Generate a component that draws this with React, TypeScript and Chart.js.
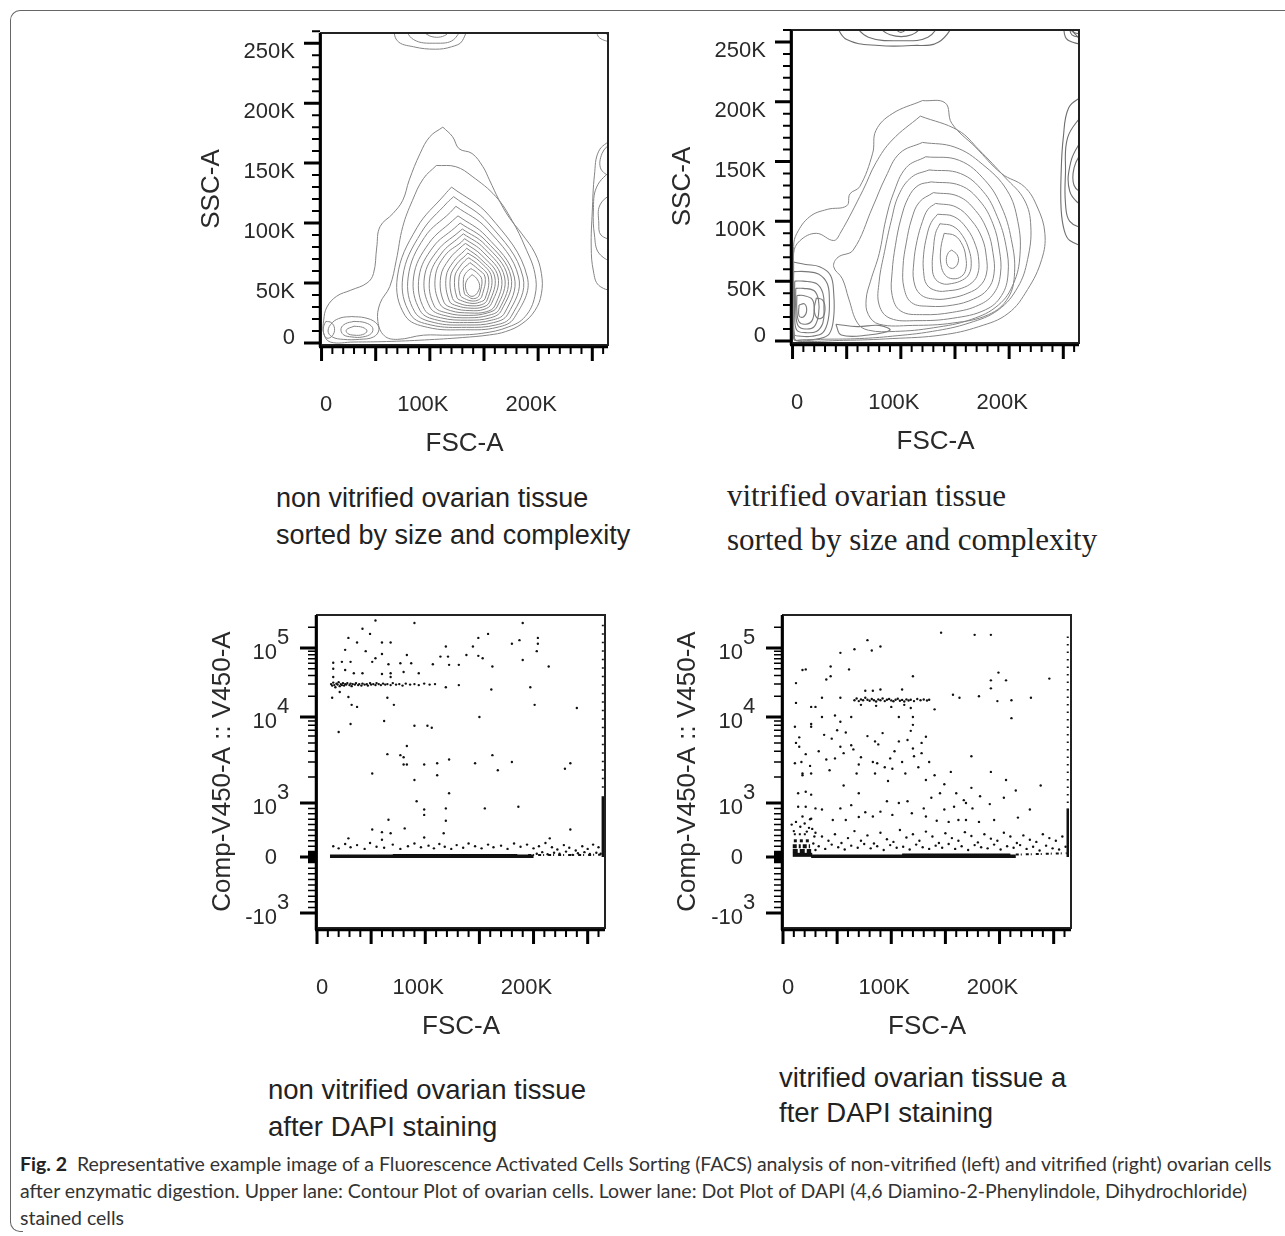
import React, { useEffect, useRef } from "react";
import { Chart, registerables } from "chart.js";

Chart.register(...registerables);

type Pt = [number, number];

// ---------------- axis ticks ----------------
const FSC_MAJOR = [0, 50, 100, 150, 200, 250];
const FSC_MINOR = [10, 20, 30, 40, 60, 70, 80, 90, 110, 120, 130, 140, 160, 170, 180, 190, 210, 220, 230, 240, 260];
const FSC_LABELS = [0, 100, 200];
const SSC_MAJOR = [0, 50, 100, 150, 200, 250];
const SSC_MINOR = [10, 20, 30, 40, 60, 70, 80, 90, 110, 120, 130, 140, 160, 170, 180, 190, 210, 220, 230, 240, 260];
const SSC_LABELS = [0, 50, 100, 150, 200, 250];
const V450_MAJOR = [-1000, 0, 1000, 10000, 100000];
const V450_MINOR = [
  -900, -800, -700, -600, -500, -400, -300, -200, -100,
  -90, -80, -70, -60, -50, -40, -30, -20, -10,
  10, 20, 30, 40, 50, 60, 70, 80, 90,
  100, 200, 300, 400, 500, 600, 700, 800, 900,
  2000, 3000, 4000, 5000, 6000, 7000, 8000, 9000,
  20000, 30000, 40000, 50000, 60000, 70000, 80000, 90000, 200000,
];

// ---------------- contour plot: non vitrified (FSC-A K, SSC-A K) ----------------
const TL_MAIN_RINGS: Pt[][] = [
  [[112,180],[121,172],[127,162],[139,158],[149,147],[155,136],[164,119],[173,105],[185,91],[197,75],[203,58],[203,41],[197,27],[185,16],[170,9.5],[155,6.7],[130,4.5],[95,2.5],[60,1.2],[30,0.8],[8,0.8],[2,8],[2,19],[5,30],[14,39],[27,44],[42,50],[48,58],[51,80],[54,97],[66,108],[75,119],[81,136],[91,158],[100,172]],
  [[106,148],[124,147],[139,139],[161,122],[176,102],[188,80],[197,58],[197,39],[188,22],[173,13.5],[148,8],[118,6.5],[94,6.5],[70,3],[58,6],[52,18],[54,33],[63,47],[69,69],[75,97],[84,119],[94,137]],
  [[120,130],[155,106],[190,55],[178,21],[162,13],[133,11],[98,13],[77,23],[70,55],[88,96],[114,124]],
  [[122,122],[154,100],[186,55],[175,22],[161,15],[134,13],[101,15],[82,24],[75,55],[92,92],[116,117]],
  [[124,114],[153,95],[182,55],[172,24],[159,17],[134,15],[104,17],[86,26],[80,55],[95,88],[119,109]],
  [[126,106],[152,89],[178,55],[169,25],[157,19],[135,17],[107,19],[91,27],[85,55],[99,83],[121,102]],
  [[128,100],[152,85],[175,55],[166,27],[156,21],[135,19],[110,21],[95,28],[90,55],[103,80],[123,96]],
  [[130,95],[151,82],[172,55],[164,28],[154,23],[136,21],[113,23],[100,30],[95,55],[107,77],[126,92]],
  [[131,91],[150,79],[169,55],[162,30],[153,25],[136,23],[116,25],[104,31],[100,55],[111,75],[127,88]],
  [[132,87],[149,76],[166,55],[160,31],[152,26],[137,25],[119,27],[109,33],[105,55],[114,73],[129,84]],
  [[133,83],[148,73],[163,55],[157,33],[150,28],[137,27],[122,29],[113,34],[110,55],[118,70],[130,81]],
  [[134,79],[147,70],[160,55],[155,34],[149,30],[138,29],[125,31],[118,35],[115,55],[122,68],[132,77]],
  [[135,75],[146,68],[157,55],[153,36],[148,32],[138,31],[127,33],[121,37],[119,55],[125,66],[133,73]],
  [[136,71],[145,65],[154,55],[151,37],[146,34],[139,33],[130,35],[125,38],[123,55],[128,64],[134,70]],
  [[137,67],[144,62],[151,55],[148,39],[145,36],[139,35],[132,37],[128,40],[127,55],[131,62],[136,66]],
  [[138,62],[143,59],[148,53],[146,41],[144,38],[139,37],[135,39],[132,41],[131,53],[133,58],[137,61.5]],
  [[139,57],[143,54],[146,48],[144,42],[140,39],[136,40],[133,46],[134,52]],
];
const TL_LEFT_BLOB: Pt[][] = [
  [[28,22],[40,21],[50,17],[53,11],[48,5],[35,3],[20,3],[10,5],[6,10],[10,17],[18,21]],
  [[30,18],[40,17],[47,13],[46,8],[38,5],[28,5],[20,7],[18,12],[22,16]],
  [[30,14],[38,13],[42,10],[38,7],[30,6.5],[24,8],[23,11]],
  [[4,18],[9,17],[12,12],[10,6],[5,4],[2,8],[2,14]],
];
const TL_EDGE_BLOBS: Pt[][] = [
  [[66,266],[70,252],[85,247],[105,245],[120,247],[130,252],[132,266]],
  [[75,266],[85,253],[105,250],[122,253],[127,266]],
  [[88,266],[100,256],[115,257],[118,266]],
  [[254,266],[256,255],[268,252]],
  [[268,170],[256,160],[252,140],[250,110],[249,80],[251,60],[256,48],[268,46]],
  [[268,145],[254,130],[251,110],[252,90],[256,75],[268,70]],
  [[268,125],[257,115],[256,100],[258,90],[268,88]],
  [[268,168],[259,158],[258,145],[268,140]],
];

// ---------------- contour plot: vitrified ----------------
const TR_MAIN_RINGS: Pt[][] = [
  [[120,201],[141,199],[147,182],[169,162],[193,140],[214,129],[226,112],[233,90],[230,68],[217,43],[199,23],[172,12],[138,5],[92,2],[47,0.5],[2,0.5],[1,79],[4,90],[16,104],[32,110],[50,113],[53,123],[62,129],[74,157],[77,176],[92,190]],
  [[118,188],[153,176],[172,160],[196,137],[214,118],[220,96],[217,68],[208,45],[190,26],[163,15],[129,8],[92,4],[62,2],[30,1.5],[2,1.5],[1,73],[7,84],[22,90],[38,84],[44,90],[65,126],[77,149],[92,168]],
  [[120,166],[150,162],[175,148],[198,126],[208,100],[210,72],[204,48],[190,30],[165,18],[130,11],[95,8],[70,9],[60,15],[52,35],[46,52],[38,62],[42,70],[56,76],[74,112],[86,137],[99,157]],
  [[123,154],[154,151],[178,134],[193,112],[202,85],[205,57],[199,36],[181,22],[148,15],[111,13],[80,14],[70,22],[68,35],[72,50],[80,73],[86,101],[93,123],[105,145]],
  [[126,143],[155,140],[176,125],[189,104],[197,80],[199,56],[193,38],[178,26],[148,19],[115,17],[90,19],[80,30],[80,50],[85,75],[91,100],[98,122],[110,137]],
  [[128,133],[155,130],[173,117],[185,98],[191,76],[192,56],[186,40],[172,30],[148,24],[120,22],[100,25],[92,38],[92,58],[95,80],[100,102],[107,120],[116,130]],
  [[130,124],[153,121],[169,109],[180,92],[185,74],[186,56],[180,43],[167,35],[148,30],[126,29],[110,32],[103,44],[102,62],[105,82],[110,102],[117,116]],
  [[132,115],[151,112],[165,101],[175,86],[179,70],[179,56],[173,46],[162,40],[147,36],[131,35],[118,39],[112,50],[112,66],[115,84],[120,100],[125,110]],
  [[134,106],[149,104],[161,94],[169,80],[172,67],[171,56],[166,49],[156,44],[144,42],[133,42],[124,47],[121,58],[121,72],[124,88],[128,99]],
  [[136,98],[148,96],[157,88],[163,76],[165,65],[163,56],[157,51],[147,48],[138,48],[131,53],[129,63],[130,76],[132,90]],
  [[140,90],[150,88],[157,80],[160,70],[160,60],[156,54],[148,52],[141,55],[137,64],[137,78]],
  [[147,76],[152,72],[153,66],[149,61],[144,62],[142,68],[144,74]],
];
const TR_LEFT_BLOB: Pt[][] = [
  [[1,66],[12,64],[25,62],[35,55],[38,40],[38,20],[34,6],[25,2],[10,1],[1,2]],
  [[1,58],[12,58],[24,56],[32,48],[34,35],[33,18],[28,7],[18,4],[8,4],[1,6]],
  [[2,50],[10,50],[22,48],[28,40],[29,28],[28,15],[22,8],[12,7],[4,9],[2,20]],
  [[3,44],[10,44],[20,42],[24,34],[24,22],[20,12],[12,10],[5,13],[3,25]],
  [[4,38],[10,38],[18,35],[20,27],[18,17],[12,14],[6,16],[4,26]],
  [[22,36],[28,34],[30,27],[28,20],[23,19],[20,26]],
  [[6,30],[11,31],[13,25],[10,20],[6,21]],
  [[40,14],[60,12],[80,13],[90,9],[70,5],[45,5]],
];
const TR_EDGE_BLOBS: Pt[][] = [
  [[39,266],[50,252],[80,247],[110,247],[135,250],[145,266]],
  [[55,266],[70,254],[100,251],[125,254],[133,266]],
  [[75,266],[90,256],[110,256],[120,266]],
  [[90,266],[100,258],[108,266]],
  [[250,266],[252,254],[258,250],[268,249]],
  [[255,266],[258,256],[268,255]],
  [[258,266],[260,258],[268,258]],
  [[268,205],[255,195],[250,170],[248,140],[248,110],[251,92],[256,84],[268,82]],
  [[268,190],[254,170],[252,140],[252,115],[256,100],[268,97]],
  [[268,170],[257,150],[256,125],[268,115]],
  [[268,160],[260,145],[260,130],[268,125]],
];

// ---------------- dot plot: non vitrified (FSC-A K, Comp-V450-A) ----------------
const BL_EVENTS: Pt[] = [
  [54,250000],[90,230000],[190,230000],[42,190000],[49,160000],[158,160000],[29,140000],[149,140000],[204,140000],[37,120000],[60,120000],[68,120000],[119,105000],[144,105000],[180,115000],[187,130000],[204,115000],[26,94000],[45,90000],[203,90000],[60,82000],[83,79000],[114,75000],[121,75000],[138,79000],[149,77000],[153,71000],[190,67000],[15,61000],[23,63000],[31,63000],[51,63000],[54,71000],[66,58000],[77,60000],[87,60000],[107,58000],[122,57000],[131,57000],[162,54000],[214,54000],[15,50000],[26,48000],[34,43000],[42,43000],[60,42000],[68,43000],[80,45000],[94,43000],[15,38000],[68,38000],
  [13,30000],[14,28500],[15,31500],[16,29000],[17,27000],[18,30500],[19,29500],[20,32000],[21,28000],[22,30000],[23,29000],[24,31000],[25,28500],[26,30000],[27,29500],[28,31000],[30,29000],[31,30500],[32,28000],[33,30000],[35,29500],[36,31000],[38,29000],[39,30000],[41,28500],[42,30500],[44,29500],[46,30000],[47,28500],[49,31000],[50,29500],[52,30000],[54,29000],[55,31000],[57,30000],[59,29000],[61,30500],[63,29500],[65,30000],[68,29000],[70,31000],[73,29500],[76,30000],[79,28500],[82,30500],[86,29500],[90,30000],[94,29000],[99,30500],[104,29500],[109,30000],
  [119,27000],[131,29000],[197,27000],[14,19000],[21,23000],[29,19500],[65,19000],[32,15000],[37,14000],[71,15000],[161,25000],[201,15000],[240,13500],[150,10000],[20,6700],[31,8300],[62,9000],[90,7900],[102,7900],[106,7500],[83,4600],[65,3700],[77,3600],[80,3400],[80,2800],[83,2800],[99,2800],[111,2900],[122,3200],[146,2900],[162,3600],[167,2400],[180,3000],[229,2500],[234,2900],[51,2200],[90,1850],[111,2100],[122,1300],[92,1050],[99,880],[99,780],[119,900],[155,900],[186,930],[66,690],[119,670],[51,510],[60,460],[68,440],[81,530],[117,440],[234,510],[29,345],[60,320],[99,360],[215,345],
  [15,200],[20,160],[26,240],[31,180],[37,220],[44,150],[49,260],[55,190],[62,170],[70,230],[77,150],[84,200],[90,250],[96,180],[103,210],[108,160],[113,240],[118,190],[124,150],[129,220],[135,170],[140,250],[146,200],[152,160],[158,230],[163,180],[170,210],[176,150],[182,250],[188,190],[194,230],[200,160],[205,200],[211,260],[217,180],[222,140],[228,220],[233,170],[239,120],[245,200],[250,150],[255,230],[260,180],
  [203,60],[208,90],[213,50],[219,80],[224,60],[230,100],[236,40],[241,70],[247,90],[252,55],[258,80],[262,60],
];
const BL_BAND: Pt[] = [[12, 15], [200, 15]];
const BL_BAND_CORE: Pt[] = [[70, 28], [185, 28]];
const BL_BAND_TAIL: Pt[] = [[195, 35], [262, 40]];
const BL_EDGE_DOTS: Pt[] = [[264, 1500], [264, 250000]];
const BL_EDGE_DENSE: Pt[] = [[264, 0], [264, 1200]];

// ---------------- dot plot: vitrified ----------------
const BR_EVENTS: Pt[] = [
  [146,167000],[177,155000],[192,155000],[78,130000],[66,96000],[82,92000],[90,105000],[53,85000],[21,49000],[18,48000],[61,49000],[44,54000],[44,39000],[40,35000],[120,39000],[246,36000],[199,44000],[192,34000],[192,26000],[206,34000],[12,31000],[157,21000],[163,19000],[181,20000],[198,17000],[211,17500],[229,19000],[211,9700],[140,12900],
  [66,17500],[68,18500],[70,17000],[72,18000],[74,17500],[76,19000],[78,17800],[80,17200],[82,18200],[84,17500],[86,16800],[88,18000],[90,17500],[92,18500],[94,17000],[96,17800],[98,18200],[100,17400],[102,16900],[104,17800],[106,18400],[108,17200],[110,17700],[112,16800],[114,18000],[116,17300],[118,17800],[121,17000],[124,18200],[127,17500],[130,17900],[133,17300],[135,17800],
  [76,24000],[83,24000],[90,25000],[110,25000],[72,15000],[86,14500],[100,14000],[112,15000],[118,13500],
  [36,19000],[53,19000],[12,16000],[26,14000],[30,14000],[48,10500],[36,10000],[11,7700],[26,8300],[26,7700],[53,8800],[63,10000],[107,10000],[120,10000],[120,8100],[132,5900],[15,5800],[12,5000],[53,4500],[63,4700],[85,5200],[107,5200],[115,5400],[120,4300],[121,3500],[128,3800],[56,3800],[40,3200],[48,3300],[21,3700],[11,2900],[70,2800],[87,2900],[94,2600],[101,2500],[174,3500],[43,2400],[18,2200],[18,2100],[26,2200],[68,2200],[85,2200],[97,1800],[155,2300],[192,2300],[206,1850],[132,1850],[56,1600],[149,1650],[174,1500],[14,1300],[21,1350],[26,1250],[70,1300],[137,1150],[167,1080],[169,1000],[204,1150],[96,1050],[107,1000],[115,1050],[191,980],[14,930],[21,930],[30,900],[36,880],[53,900],[63,960],[76,830],[90,840],[130,900],[149,880],[158,930],[175,900],[228,880],[18,750],[26,710],[46,685],[58,685],[70,740],[83,750],[101,780],[119,810],[132,750],[142,670],[153,650],[162,685],[169,685],[181,650],[195,685],[217,730],
  [15,4500],[17,3000],[25,2700],[33,4000],[38,6200],[45,5600],[50,7000],[58,6600],[65,4200],[72,3400],[78,6000],[83,3000],[88,4800],[92,6500],[99,3300],[103,4000],[110,3000],[113,2200],[118,6900],[125,2600],[128,5000],[135,3000],[140,2100],[145,1300],[160,1300],[182,1200],[215,1400],[238,1600],
  [30,450],[36,380],[42,300],[48,420],[54,260],[60,350],[66,480],[72,300],[78,400],[84,250],[90,450],[96,330],[102,280],[108,500],[114,360],[120,420],[126,300],[132,470],[138,380],[144,260],[150,440],[156,350],[162,300],[168,460],[174,390],[180,270],[186,420],[192,340],[198,300],[204,450],[210,380],[216,260],[222,400],[228,320],[234,280],[240,420],[246,350],[252,300],[258,380],
  [33,200],[39,150],[45,230],[51,180],[57,140],[63,210],[69,170],[75,240],[81,160],[87,200],[93,130],[99,220],[105,170],[111,190],[117,140],[123,230],[129,180],[135,150],[141,210],[147,170],[153,240],[159,150],[165,200],[171,130],[177,220],[183,180],[189,160],[195,230],[201,140],[207,200],[213,170],[219,220],[225,150],[231,190],[237,120],[243,210],[249,160],[255,140],[261,190],
  [8,600],[12,650],[16,560],[20,620],[24,540],[10,480],[22,470],[27,520],[29,380],[28,250],[30,130],[25,700],
];
const BR_BAND: Pt[] = [[26, 15], [215, 15]];
const BR_BAND_CORE: Pt[] = [[110, 35], [210, 35]];
const BR_BAND_TAIL: Pt[] = [[215, 45], [262, 70]];
const BR_LOW_ROW_A: Pt[] = [[9, 40], [27, 40]];
const BR_LOW_ROW_B: Pt[] = [[9, 110], [26, 110]];
const BR_LOW_ROW_C: Pt[] = [[9, 200], [25, 200]];
const BR_LOW_ROW_D: Pt[] = [[10, 300], [24, 300]];
const BR_LOW_ROW_E: Pt[] = [[10, 420], [22, 420]];
const BR_EDGE_DOTS: Pt[] = [[263, 1000], [263, 160000]];
const BR_EDGE_DENSE: Pt[] = [[263, 0], [263, 900]];

// ---------------- helpers ----------------
const SANS = '"Liberation Sans", Arial, Helvetica, sans-serif';

function biex(v: number): number {
  if (v < 0) return (56 * v) / 1000;
  if (v <= 1000) return (54 * v) / 1000;
  if (v <= 10000) return 54 + 86 * Math.log10(v / 1000);
  return 140 + 69 * Math.log10(v / 10000);
}

const fmtK = (v: number) => (v === 0 ? "0" : `${v}K`);

const facsAxes = {
  id: "facsAxes",
  afterDraw(chart: any, _args: any, o: any) {
    const { ctx, chartArea: a } = chart;
    const xs = chart.scales.x;
    const ys = chart.scales.y;
    const ty = o.biex ? biex : (v: number) => v;
    ctx.save();
    ctx.lineCap = "butt";
    ctx.strokeStyle = "#222";
    ctx.lineWidth = 2;
    ctx.strokeRect(a.left, a.top, a.right - a.left, a.bottom - a.top);
    const xb = a.bottom + 2;
    const yl = a.left - 1;
    ctx.strokeStyle = "#000";
    ctx.lineWidth = 2.5;
    ctx.beginPath();
    ctx.moveTo(a.left - 2, xb);
    ctx.lineTo(a.right, xb);
    ctx.moveTo(yl, a.top);
    ctx.lineTo(yl, a.bottom + 2);
    ctx.stroke();
    const tickX = (vals: number[], len: number, w: number) => {
      ctx.lineWidth = w;
      ctx.beginPath();
      for (const v of vals) {
        const p = xs.getPixelForValue(v);
        if (p < a.left - 2 || p > a.right + 2) continue;
        ctx.moveTo(p, xb);
        ctx.lineTo(p, xb + len);
      }
      ctx.stroke();
    };
    const tickY = (vals: number[], len: number, w: number) => {
      ctx.lineWidth = w;
      ctx.beginPath();
      for (const v of vals) {
        const p = ys.getPixelForValue(ty(v));
        if (p < a.top - 2 || p > a.bottom + 2) continue;
        ctx.moveTo(yl, p);
        ctx.lineTo(yl - len, p);
      }
      ctx.stroke();
    };
    tickX(FSC_MINOR, 7, 2);
    tickX(FSC_MAJOR, 14, 3);
    if (o.biex) {
      tickY(V450_MINOR, 8, 1.5);
      tickY(V450_MAJOR, 16, 3);
    } else {
      tickY(SSC_MINOR, 8, 2);
      tickY(SSC_MAJOR, 16, 3);
    }
    ctx.fillStyle = "#2a2a2a";
    ctx.font = `22px ${SANS}`;
    ctx.textBaseline = "middle";
    ctx.textAlign = "center";
    for (const v of FSC_LABELS) {
      const p = Math.max(xs.getPixelForValue(v) - 7, a.left + 5);
      ctx.fillText(fmtK(v), p, a.bottom + 60);
    }
    if (o.biex) {
      for (const v of V450_MAJOR) {
        const p = ys.getPixelForValue(biex(v));
        const rx = a.left - 40;
        if (v === 0) {
          ctx.textAlign = "right";
          ctx.fillText("0", rx, p + 1);
          continue;
        }
        const e = Math.round(Math.log10(Math.abs(v)));
        ctx.textAlign = "right";
        ctx.fillText(v < 0 ? "-10" : "10", rx, p + 5);
        ctx.textAlign = "left";
        ctx.fillText(String(e), rx, p - 10);
      }
    } else {
      ctx.textAlign = "right";
      for (const v of SSC_LABELS) {
        const p = Math.min(ys.getPixelForValue(v) + 9, a.bottom - 7);
        ctx.fillText(fmtK(v), a.left - 26, p);
      }
    }
    ctx.font = `26px ${SANS}`;
    ctx.textAlign = "center";
    ctx.fillText(o.xTitle, (a.left + a.right) / 2, a.bottom + 99);
    ctx.save();
    ctx.translate(a.left - o.yTitleOff, (a.top + a.bottom) / 2);
    ctx.rotate(-Math.PI / 2);
    ctx.fillText(o.yTitle, 0, 0);
    ctx.restore();
    ctx.restore();
  },
};

const CONTOUR = "#858585";

function ringSet(rings: Pt[][], color: string, width: number) {
  return rings.map((r) => ({
    type: "scatter",
    showLine: true,
    data: [...r, r[0]].map(([x, y]) => ({ x, y })),
    borderColor: color,
    borderWidth: width,
    pointRadius: 0,
    tension: 0.4,
    fill: false,
  }));
}

function eventSet(pts: Pt[]) {
  return {
    type: "scatter",
    data: pts.map(([x, v]) => ({ x, y: biex(v) })),
    pointRadius: 1.2,
    pointBorderWidth: 0,
    backgroundColor: "#111",
    borderColor: "#111",
  };
}

function rowSet(pts: Pt[], width: number, dash: number[] = []) {
  return {
    type: "scatter",
    showLine: true,
    data: pts.map(([x, v]) => ({ x, y: biex(v) })),
    borderColor: "#111",
    borderWidth: width,
    borderDash: dash,
    pointRadius: 0,
    fill: false,
  };
}

const PADL = 130, PADT = 15, PADR = 15, PADB = 125;

function baseOptions(yMin: number, yMax: number, xMax: number, axes: any) {
  return {
    responsive: false,
    animation: false,
    devicePixelRatio: 1,
    events: [],
    layout: { padding: { left: PADL, top: PADT, right: PADR, bottom: PADB } },
    scales: {
      x: { type: "linear", min: xMax > 265 ? 0 : -0.5, max: xMax, display: false },
      y: { type: "linear", min: yMin, max: yMax, display: false },
    },
    plugins: { legend: { display: false }, tooltip: { enabled: false }, facsAxes: axes },
  };
}

type Area = { l: number; t: number; w: number; h: number };

function Panel({ area, build }: { area: Area; build: () => any }) {
  const ref = useRef<HTMLCanvasElement>(null);
  useEffect(() => {
    const chart = new Chart(ref.current as HTMLCanvasElement, build());
    return () => chart.destroy();
  }, []);
  const W = area.w + PADL + PADR;
  const H = area.h + PADT + PADB;
  return (
    <canvas
      ref={ref}
      width={W}
      height={H}
      style={{ position: "absolute", left: area.l - PADL, top: area.t - PADT, width: W, height: H }}
    />
  );
}

const buildTL = () => ({
  type: "scatter",
  data: {
    datasets: [
      ...ringSet(TL_MAIN_RINGS, CONTOUR, 1),
      ...ringSet(TL_LEFT_BLOB, CONTOUR, 1),
      ...ringSet(TL_EDGE_BLOBS, CONTOUR, 1),
    ],
  },
  options: baseOptions(-1.7, 258.5, 264.5, { biex: false, xTitle: "FSC-A", yTitle: "SSC-A", yTitleOff: 109 }),
  plugins: [facsAxes],
});

const buildTR = () => ({
  type: "scatter",
  data: {
    datasets: [
      ...ringSet(TR_MAIN_RINGS, CONTOUR, 1),
      ...ringSet(TR_LEFT_BLOB, "#7a7a7a", 1.1),
      ...ringSet(TR_EDGE_BLOBS, "#6e6e6e", 1.1),
    ],
  },
  options: baseOptions(-1.7, 260, 264.5, { biex: false, xTitle: "FSC-A", yTitle: "SSC-A", yTitleOff: 109 }),
  plugins: [facsAxes],
});

const buildBL = () => ({
  type: "scatter",
  data: {
    datasets: [
      rowSet(BL_BAND, 3.5),
      rowSet(BL_BAND_CORE, 3),
      rowSet(BL_BAND_TAIL, 2, [3, 2, 1, 4]),
      rowSet(BL_EDGE_DOTS, 2, [1.5, 7]),
      rowSet(BL_EDGE_DENSE, 2.5),
      eventSet(BL_EVENTS),
    ],
  },
  options: baseOptions(-71, 242, 266, { biex: true, xTitle: "FSC-A", yTitle: "Comp-V450-A :: V450-A", yTitleOff: 94 }),
  plugins: [facsAxes],
});

const buildBR = () => ({
  type: "scatter",
  data: {
    datasets: [
      rowSet(BR_BAND, 3.5),
      rowSet(BR_BAND_CORE, 3),
      rowSet(BR_BAND_TAIL, 2, [3, 2, 1, 4]),
      rowSet(BR_LOW_ROW_A, 4),
      rowSet(BR_LOW_ROW_B, 4, [5, 2]),
      rowSet(BR_LOW_ROW_C, 4, [4, 2, 2, 2]),
      rowSet(BR_LOW_ROW_D, 3, [3, 3]),
      rowSet(BR_LOW_ROW_E, 2, [2, 3]),
      rowSet(BR_EDGE_DOTS, 2, [1.5, 6]),
      rowSet(BR_EDGE_DENSE, 2.5),
      eventSet(BR_EVENTS),
    ],
  },
  options: baseOptions(-71, 242, 266, { biex: true, xTitle: "FSC-A", yTitle: "Comp-V450-A :: V450-A", yTitleOff: 95 }),
  plugins: [facsAxes],
});

const capSans: React.CSSProperties = {
  position: "absolute",
  fontFamily: SANS,
  color: "#222",
  whiteSpace: "pre",
};

export default function App() {
  return (
    <div style={{ position: "absolute", left: 0, top: 0, width: 1285, height: 1236, overflow: "hidden", background: "#fff" }}>
      <div style={{ position: "absolute", left: 10, top: 10, width: 1300, height: 1212, borderTop: "1.5px solid #666", borderLeft: "1.5px solid #666", borderTopLeftRadius: 10 }} />
      <div style={{ position: "absolute", left: 10, top: 1220, width: 12, height: 11, borderLeft: "1.5px solid #666", borderBottom: "1.5px solid #666", borderBottomLeftRadius: 10 }} />

      <Panel area={{ l: 321, t: 33, w: 287, h: 312 }} build={buildTL} />
      <Panel area={{ l: 792, t: 30, w: 287, h: 313 }} build={buildTR} />
      <Panel area={{ l: 317, t: 615, w: 288, h: 313 }} build={buildBL} />
      <Panel area={{ l: 783, t: 615, w: 288, h: 313 }} build={buildBR} />

      <div style={{ ...capSans, left: 276, top: 480, fontSize: 27, lineHeight: "37px" }}>
        {"non vitrified ovarian tissue\nsorted by size and complexity"}
      </div>
      <div style={{ ...capSans, left: 727, top: 474, fontSize: 31, lineHeight: "44px", fontFamily: '"Liberation Serif", "Times New Roman", serif' }}>
        {"vitrified ovarian tissue\nsorted by size and complexity"}
      </div>
      <div style={{ ...capSans, left: 268, top: 1071, fontSize: 27.5, lineHeight: "37px" }}>
        {"non vitrified ovarian tissue\nafter DAPI staining"}
      </div>
      <div style={{ ...capSans, left: 779, top: 1060, fontSize: 27.5, lineHeight: "35px" }}>
        {"vitrified ovarian tissue a\nfter DAPI staining"}
      </div>

      <div style={{ position: "absolute", left: 20, top: 1150, fontFamily: 'Lato, "Noto Sans", sans-serif', fontSize: 19.5, lineHeight: "27px", color: "#333", whiteSpace: "pre" }}>
        <span style={{ fontWeight: 700, color: "#222" }}>Fig. 2</span>
        {"  Representative example image of a Fluorescence Activated Cells Sorting (FACS) analysis of non-vitrified (left) and vitrified (right) ovarian cells\nafter enzymatic digestion. Upper lane: Contour Plot of ovarian cells. Lower lane: Dot Plot of DAPI (4,6 Diamino-2-Phenylindole, Dihydrochloride)\nstained cells"}
      </div>
    </div>
  );
}
